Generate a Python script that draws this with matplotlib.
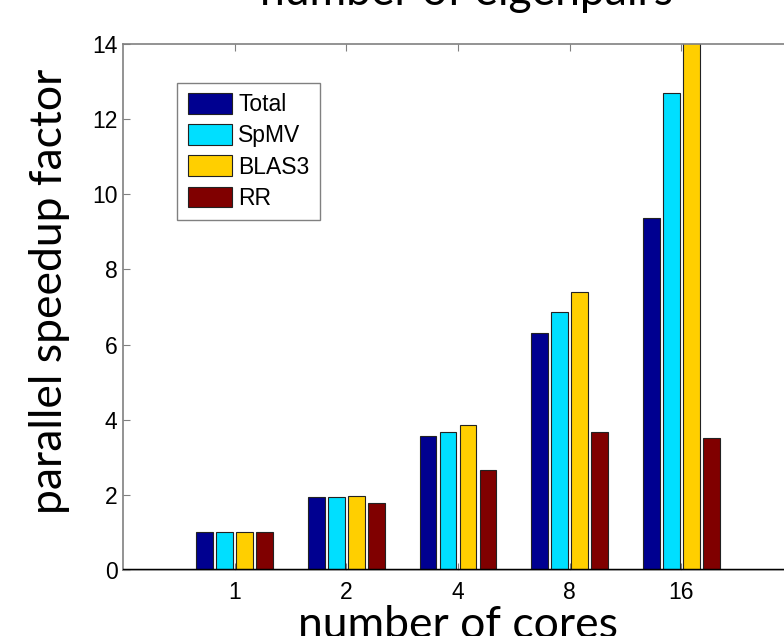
import matplotlib
matplotlib.use('Agg')
import matplotlib.pyplot as plt
import numpy as np

# data
cores = ['1', '2', '4', '8', '16']
series = ['Total', 'SpMV', 'BLAS3', 'RR']
total = [1.0, 1.93, 3.57, 6.30, 9.37]
spmv = [1.0, 1.95, 3.67, 6.87, 12.70]
blas3 = [1.0, 1.97, 3.86, 7.40, 14.6]
rr = [1.0, 1.78, 2.66, 3.66, 3.52]
colors = ['#000090', '#00DFFF', '#FFCF00', '#800000']

fig = plt.figure(figsize=(7.84, 6.36), dpi=100)
ax = fig.add_axes([123 / 784, 1 - 570 / 636, 670 / 784, 526 / 636])

x = np.arange(1, len(cores) + 1)
step = 0.179
width = 0.148
for i, (name, vals) in enumerate(zip(series, [total, spmv, blas3, rr])):
    ax.bar(x + (i - 1.5) * step, vals, width, color=colors[i], label=name,
           edgecolor='#222222', linewidth=0.8, zorder=2)

ax.axhline(0, color='black', linewidth=2.5, zorder=3)
ax.set_xlim(0, 6)
ax.set_ylim(0, 14)
ax.set_xticks(x)
ax.set_xticklabels(cores)
ax.set_yticks(np.arange(0, 15, 2))

tickfont = 'Liberation Sans'
for lab in ax.get_xticklabels() + ax.get_yticklabels():
    lab.set_fontfamily(tickfont)
    lab.set_fontsize(16.5)
ax.tick_params(direction='in', length=5, color='#808080', top=True, right=True)
ax.tick_params(axis='x', pad=8)
ax.tick_params(axis='y', pad=4)
for s in ax.spines.values():
    s.set_color('#808080')
    s.set_linewidth(1.2)

leg = ax.legend(loc='upper left', bbox_to_anchor=(0.081, 0.926),
                prop={'family': tickfont, 'size': 16.5},
                handlelength=1.92, handleheight=1.0, handletextpad=0.3,
                labelspacing=0.35, borderpad=0.45, borderaxespad=0,
                fancybox=False, framealpha=1)
leg.get_frame().set_edgecolor('#808080')
leg.get_frame().set_linewidth(1.0)

labelfont = 'Lato'
fig.text(467 / 784, 1 - 5 / 636, 'number of eigenpairs', ha='center',
         va='baseline', family=labelfont, fontsize=32)
fig.text(458 / 784, 1 - 638 / 636, 'number of cores', ha='center',
         va='baseline', family=labelfont, fontsize=32)
fig.text(50 / 784, 1 - 291 / 636, 'parallel speedup factor', ha='center',
         va='center', rotation=90, family=labelfont, fontsize=32)

fig.savefig('out.png', dpi=100)
